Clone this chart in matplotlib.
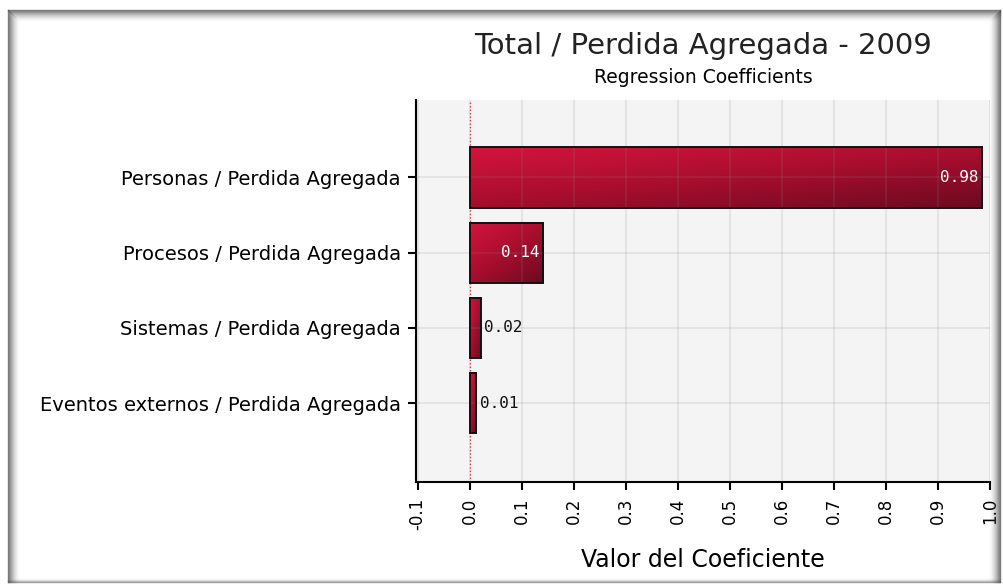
import numpy as np
import matplotlib
matplotlib.use("Agg")
import matplotlib.pyplot as plt
from matplotlib.patches import Rectangle
from matplotlib.colors import LinearSegmentedColormap

# data
categories = ["Personas / Perdida Agregada",
              "Procesos / Perdida Agregada",
              "Sistemas / Perdida Agregada",
              "Eventos externos / Perdida Agregada"]
values = [0.985, 0.142, 0.021, 0.013]
labels = ["0.98", "0.14", "0.02", "0.01"]
xticks = [-0.1, 0.0, 0.1, 0.2, 0.3, 0.4, 0.5, 0.6, 0.7, 0.8, 0.9, 1.0]

fig = plt.figure(figsize=(10.04, 5.85), dpi=100)
fig.patch.set_facecolor("white")

# shadowed frame around the chart (pixel coords)
W, H = 1004, 585
ft = fig.transFigure
for k in range(12):
	a = 0.7 * (1 - k / 12.0) ** 2
	c = (0.3, 0.3, 0.3, a)
	# left
	fig.add_artist(plt.Line2D([(8 + k) / W] * 2, [(585 - 582) / H, (585 - 10 - k) / H], color=c, lw=1, transform=ft))
	# top
	fig.add_artist(plt.Line2D([(8 + k) / W, 1000 / W], [(585 - 10 - k) / H] * 2, color=c, lw=1, transform=ft))
	# right
	fig.add_artist(plt.Line2D([(1000 - k) / W] * 2, [(585 - 582) / H, (585 - 10 - k) / H], color=c, lw=1, transform=ft))
for k in range(4):
	a = 0.5 * (1 - k / 4.0) ** 2
	fig.add_artist(plt.Line2D([8 / W, 1000 / W], [(585 - 582 + k) / H] * 2, color=(0.3, 0.3, 0.3, a), lw=1, transform=ft))

ax = fig.add_axes([416 / W, (585 - 482) / H, 574 / W, 382 / H])
ax.set_facecolor("#f4f4f4")

cmap = LinearSegmentedColormap.from_list("bar", ["#d4143c", "#a80e2e", "#6c0a20"])
gy, gx = np.mgrid[0:1:64j, 0:1:64j]
grad = (gx * 0.45 + gy * 0.55)

ypos = np.arange(len(categories))
h = 0.8
for y, v, lab in zip(ypos, values, labels):
	ax.imshow(grad, cmap=cmap, extent=[0, v, y + h / 2, y - h / 2], aspect="auto",
		origin="upper", zorder=2, interpolation="bilinear")
	ax.add_patch(Rectangle((0, y - h / 2), v, h, fill=False, ec="#111111", lw=1.4, zorder=3))
	if v > 0.1:
		ax.text(v - 0.008, y, lab, ha="right", va="center", color="white", fontsize=11.5,
			family="DejaVu Sans Mono", zorder=5)
	else:
		ax.text(v + 0.007, y, lab, ha="left", va="center", color="#111111", fontsize=11.5,
			family="DejaVu Sans Mono", zorder=5)

ax.axvline(0, color="#e0304a", ls=(0, (1, 1.5)), lw=1, zorder=1)

ax.set_xlim(-0.103, 1.0)
ax.set_ylim(4.05, -1.03)
ax.set_xticks(xticks)
ax.set_xticklabels(["%.1f" % t for t in xticks], rotation=90, fontsize=12)
ax.set_yticks(ypos)
ax.set_yticklabels(categories, fontsize=14)
ax.grid(True, color="#888888", alpha=0.18, lw=1.2, zorder=4)
ax.set_axisbelow(False)

for s in ["top", "right"]:
	ax.spines[s].set_visible(False)
for s in ["left", "bottom"]:
	ax.spines[s].set_linewidth(1.5)
ax.tick_params(axis="both", length=6, width=1.5, direction="out", pad=5)

ax.set_xlabel("Valor del Coeficiente", fontsize=17, labelpad=13)
ax.text(0.5, 1.035, "Regression Coefficients", transform=ax.transAxes, ha="center",
	va="bottom", fontsize=13.5)
ax.text(0.5, 1.105, "Total / Perdida Agregada - 2009", transform=ax.transAxes, ha="center",
	va="bottom", fontsize=21, color="#222222")

fig.savefig("out.png", dpi=100)
